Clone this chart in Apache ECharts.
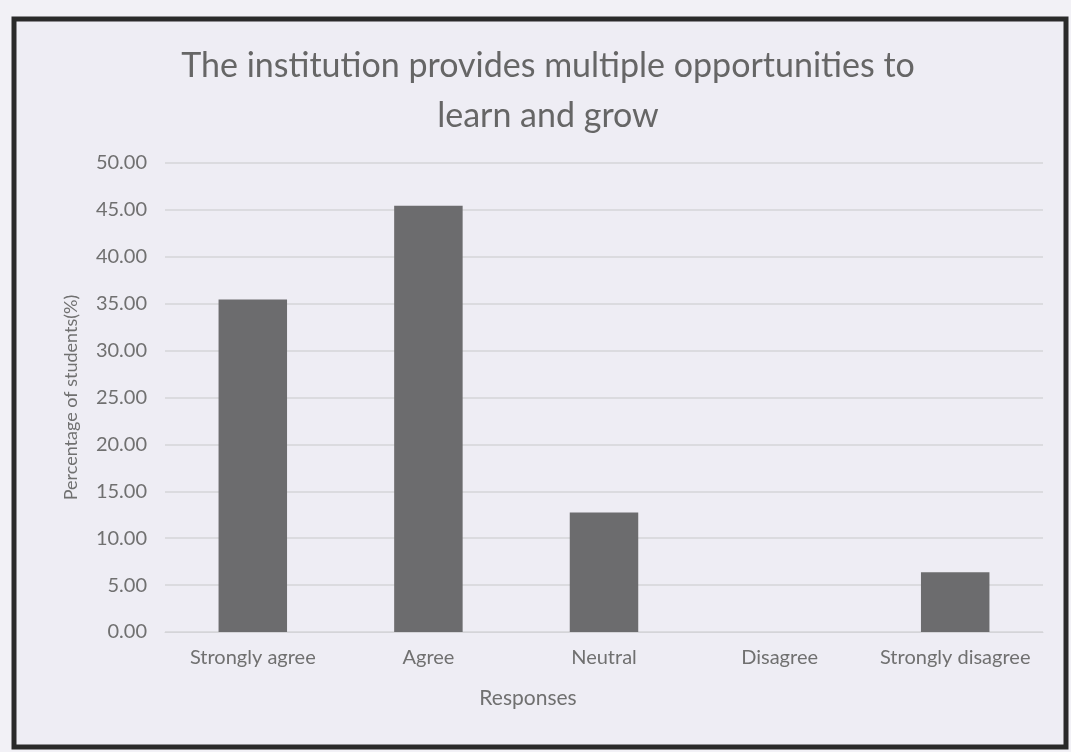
<!DOCTYPE html>
<html>
<head>
<meta charset="utf-8">
<script src="https://cdn.jsdelivr.net/npm/echarts@6/dist/echarts.min.js"></script>
<style>
  html, body { margin: 0; padding: 0; background: #f2f1f6; }
  #main { width: 1071px; height: 752px; }
</style>
</head>
<body>
<div id="main"></div>
<script>
const categories = ['Strongly agree', 'Agree', 'Neutral', 'Disagree', 'Strongly disagree'];
const percentages = [35.45, 45.45, 12.73, 0, 6.36];
const yTicks = { min: 0, max: 50, interval: 5 };

const chart = echarts.init(document.getElementById('main'));
const textColor = '#707070';

chart.setOption({
  backgroundColor: '#f2f1f6',
  textStyle: { fontFamily: 'Lato' },
  title: {
    text: 'The institution provides multiple opportunities to\nlearn and grow',
    left: 543,
    top: 36,
    textAlign: 'center',
    textStyle: { fontFamily: 'Lato', fontSize: 34, fontWeight: 'normal', color: '#666', lineHeight: 50 }
  },
  graphic: [{
    type: 'rect',
    shape: { x: 14, y: 19, width: 1052, height: 728 },
    style: { fill: '#eeedf4', stroke: '#2a2a2a', lineWidth: 5 },
    z: -10
  }],
  grid: { left: 165, right: 28, top: 163, bottom: 120 },
  xAxis: {
    type: 'category',
    data: categories,
    name: 'Responses',
    nameLocation: 'middle',
    nameGap: 56,
    nameTextStyle: { fontSize: 21, color: textColor, padding: [0, 152, 0, 0] },
    axisLine: { show: true, lineStyle: { color: '#d4d4d8' } },
    axisTick: { show: false },
    axisLabel: { fontSize: 20, color: textColor, margin: 16, interval: 0 }
  },
  yAxis: {
    type: 'value',
    min: yTicks.min,
    max: yTicks.max,
    interval: yTicks.interval,
    name: 'Percentage of students(%)',
    nameLocation: 'middle',
    nameGap: 85,
    nameTextStyle: { fontSize: 18, color: textColor },
    axisLabel: { fontSize: 20, color: textColor, margin: 18, formatter: v => v.toFixed(2) },
    splitLine: { lineStyle: { color: '#d4d4d8', width: 1.5 } }
  },
  series: [{
    type: 'bar',
    data: percentages,
    barWidth: '39%',
    itemStyle: { color: '#6c6c6e' }
  }]
});
</script>
</body>
</html>
